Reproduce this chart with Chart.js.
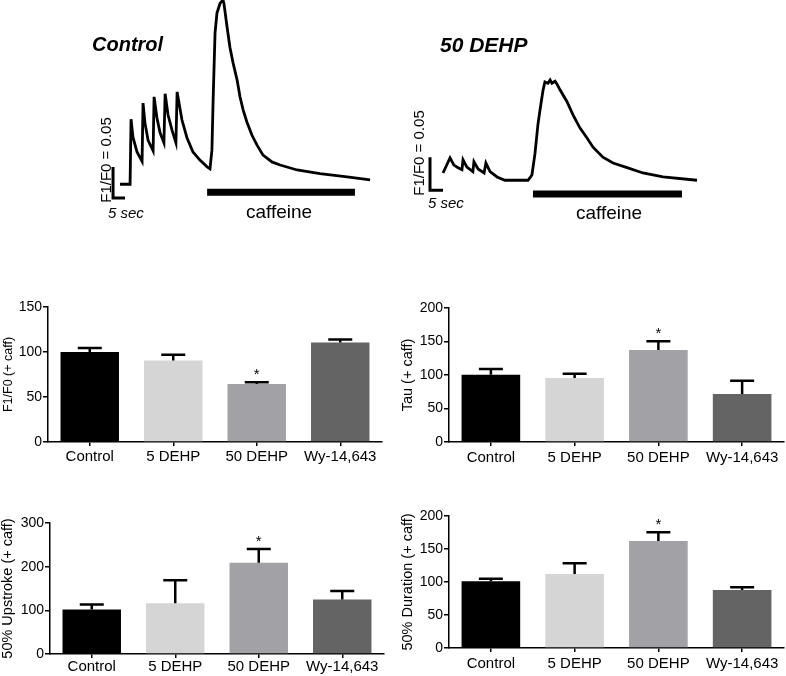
<!DOCTYPE html>
<html>
<head>
<meta charset="utf-8">
<script src="https://cdn.jsdelivr.net/npm/chart.js@4.4.0/dist/chart.umd.min.js"></script>
<style>
  body { margin: 0; width: 786px; height: 676px; position: relative; overflow: hidden; background: #fff;
         font-family: "Liberation Sans", Arial, sans-serif; color: #000; }
  canvas { position: absolute; }
  .lbl { position: absolute; white-space: nowrap; line-height: 1; }
  .rot { transform: translate(-50%, -50%) rotate(-90deg); }
</style>
</head>
<body>
<canvas id="ctrlTrace" width="290" height="230" style="left:100px;top:0px"></canvas>
<canvas id="dehpTrace" width="300" height="230" style="left:410px;top:0px"></canvas>

<div class="lbl" style="left:92px;top:33px;font:bold italic 20px 'Liberation Sans',Arial">Control</div>
<div class="lbl" style="left:440px;top:33px;font:bold italic 21px 'Liberation Sans',Arial">50 DEHP</div>
<div class="lbl rot" style="left:105px;top:160px;font-size:15px">F1/F0 = 0.05</div>
<div class="lbl rot" style="left:418px;top:153px;font-size:15px">F1/F0 = 0.05</div>
<div class="lbl" style="left:108px;top:205px;font-size:15px;font-style:italic">5 sec</div>
<div class="lbl" style="left:428px;top:195px;font-size:15px;font-style:italic">5 sec</div>
<div class="lbl" style="left:279px;top:211px;font-size:19px;transform:translate(-50%,-50%)">caffeine</div>
<div class="lbl" style="left:609px;top:212px;font-size:19px;transform:translate(-50%,-50%)">caffeine</div>

<canvas id="ampChart" width="390" height="180" style="left:0px;top:290px"></canvas>
<canvas id="tauChart" width="396" height="180" style="left:390px;top:290px"></canvas>
<canvas id="upChart" width="391" height="176" style="left:-1px;top:500px"></canvas>
<canvas id="durChart" width="396" height="176" style="left:390px;top:500px"></canvas>

<script>
// example traces: time (s) and F1/F0
const ctrlTime  = [0, 4.2, 4.6, 5.4, 7.1, 9.2, 9.6, 10.4, 11.7, 13.8, 14.2, 15.4, 16.7, 18.3, 18.8, 20.0,
                   21.7, 23.3, 23.8, 25.8, 27.9, 30.4, 33.3, 36.3, 37.5, 38.3, 38.8, 39.6, 40.4, 41.7, 42.9,
                   43.3, 44.6, 45.8, 47.1, 48.8, 50.0, 51.3, 52.9, 55.0, 57.1, 59.6, 63.3, 66.7, 73.8, 83.3,
                   94.6, 104.2];
const ctrlRatio = [0.998, 0.998, 1.103, 1.074, 1.050, 1.035, 1.129, 1.097, 1.069, 1.052, 1.139, 1.105, 1.081,
                   1.065, 1.144, 1.110, 1.085, 1.065, 1.147, 1.102, 1.073, 1.050, 1.037, 1.026, 1.023, 1.053,
                   1.134, 1.242, 1.274, 1.290, 1.295, 1.290, 1.252, 1.219, 1.194, 1.166, 1.139, 1.118, 1.098,
                   1.077, 1.061, 1.045, 1.034, 1.029, 1.021, 1.015, 1.010, 1.005];
const dehpTime  = [0, 2.7, 4.2, 5.8, 7.3, 7.7, 9.2, 11.5, 11.9, 13.5, 15.8, 16.5, 18.1, 20.8, 23.8, 32.7,
                   34.2, 35.4, 36.5, 37.3, 38.5, 39.2, 40.4, 41.2, 41.9, 43.1, 43.8, 45.0, 47.7, 50.0, 52.7,
                   55.4, 57.7, 61.5, 65.4, 70.8, 76.9, 84.6, 97.7];
const dehpRatio = [1.000, 1.023, 1.012, 1.008, 1.005, 1.020, 1.009, 1.002, 1.017, 1.006, 1.000, 1.015, 1.002,
                   0.994, 0.989, 0.989, 0.997, 1.030, 1.073, 1.095, 1.126, 1.138, 1.136, 1.141, 1.136, 1.139,
                   1.135, 1.126, 1.108, 1.088, 1.068, 1.053, 1.039, 1.024, 1.015, 1.008, 1.000, 0.994, 0.989];

// scale bars (5 s by 0.05) and caffeine application
const ctrlScaleT = [-2.9, -2.9, 2.1];
const ctrlScaleF = [1.026, 0.976, 0.976];
const dehpScaleT = [-5.0, -5.0, 0.0];
const dehpScaleF = [1.024, 0.974, 0.974];
const ctrlCaffT = [36.3, 97.9];
const ctrlCaffF = [0.985, 0.985];
const dehpCaffT = [34.6, 91.9];
const dehpCaffF = [0.968, 0.968];

// summary bars (mean, SEM)
const groups = ['Control', '5 DEHP', '50 DEHP', 'Wy-14,643'];
const ampMean = [100, 90.5, 64.5, 110.5];
const ampErr  = [4.5, 6.5, 2, 3.5];
const tauMean = [100.5, 95.5, 137.5, 71.5];
const tauErr  = [8.5, 6.5, 13, 20];
const upMean  = [102, 116, 209, 125];
const upErr   = [11.5, 53, 31.5, 19];
const durMean = [101, 112, 162, 88];
const durErr  = [4, 16.5, 13.5, 4];
const starred = [false, false, true, false];

const barColors = ['#000000', '#d5d5d5', '#a2a2a6', '#646464'];
const FONT = "'Liberation Sans', Arial, sans-serif";

const pts = (xs, ys) => xs.map((x, i) => ({ x, y: ys[i] }));

function makeTrace(id, t, f, st, sf, ct, cf, xr, yr) {
  return new Chart(document.getElementById(id), {
    type: 'line',
    data: {
      datasets: [
        { data: pts(t, f), borderColor: '#000', borderWidth: 2.8, pointRadius: 0, tension: 0 },
        { data: pts(st, sf), borderColor: '#000', borderWidth: 3, pointRadius: 0, borderJoinStyle: 'miter' },
        { data: pts(ct, cf), borderColor: '#000', borderWidth: 7, pointRadius: 0, borderCapStyle: 'butt' },
      ],
    },
    options: {
      responsive: false,
      animation: false,
      layout: { padding: 0 },
      plugins: { legend: { display: false }, tooltip: { enabled: false } },
      scales: {
        x: { type: 'linear', display: false, min: xr[0], max: xr[1] },
        y: { display: false, min: yr[0], max: yr[1] },
      },
    },
  });
}

makeTrace('ctrlTrace', ctrlTime, ctrlRatio, ctrlScaleT, ctrlScaleF, ctrlCaffT, ctrlCaffF,
  [-8.333, 112.5], [0.9242, 1.2952]);
makeTrace('dehpTrace', dehpTime, dehpRatio, dehpScaleT, dehpScaleF, dehpCaffT, dehpCaffF,
  [-12.69, 102.69], [0.9136, 1.2621]);

const errorBars = {
  id: 'errorBars',
  afterDatasetsDraw(chart, args, opts) {
    const { ctx } = chart;
    const y = chart.scales.y;
    const meta = chart.getDatasetMeta(0);
    ctx.save();
    ctx.strokeStyle = '#000';
    ctx.fillStyle = '#000';
    ctx.lineWidth = 2.5;
    ctx.font = `15px ${FONT}`;
    ctx.textAlign = 'center';
    ctx.textBaseline = 'alphabetic';
    meta.data.forEach((bar, i) => {
      const base = y.getPixelForValue(opts.mean[i]);
      const top = y.getPixelForValue(opts.mean[i] + opts.err[i]);
      ctx.beginPath();
      ctx.moveTo(bar.x, base);
      ctx.lineTo(bar.x, top);
      ctx.moveTo(bar.x - 12, top);
      ctx.lineTo(bar.x + 12, top);
      ctx.stroke();
      if (starred[i]) ctx.fillText('*', bar.x, top - 3);
    });
    ctx.restore();
  },
};

function makeBar(id, mean, err, c) {
  return new Chart(document.getElementById(id), {
    type: 'bar',
    data: {
      labels: groups,
      datasets: [{ data: mean, backgroundColor: barColors, barPercentage: 0.7, categoryPercentage: 1 }],
    },
    options: {
      responsive: false,
      animation: false,
      layout: { padding: { top: c.padTop, right: c.padRight, left: 0, bottom: 0 } },
      plugins: {
        legend: { display: false },
        tooltip: { enabled: false },
        errorBars: { mean, err },
      },
      scales: {
        x: {
          afterFit: s => { s.height = c.axisH; },
          grid: { display: true, drawOnChartArea: false, offset: false, color: '#000', lineWidth: 1.5, tickLength: 4 },
          border: { display: true, color: '#000', width: 1.5 },
          ticks: { color: '#000', padding: c.xPad, font: { family: FONT, size: 15 } },
        },
        y: {
          min: 0,
          max: c.max,
          afterFit: s => { s.width = c.axisW; },
          grid: { display: true, drawOnChartArea: false, color: '#000', lineWidth: 1.5, tickLength: 5 },
          border: { display: true, color: '#000', width: 1.5 },
          ticks: { stepSize: c.step, color: '#000', padding: 1, font: { family: FONT, size: c.tickSize } },
          title: {
            display: true,
            text: c.title,
            color: '#000',
            padding: { top: c.titlePad, bottom: 0 },
            font: { family: FONT, size: c.titleSize },
          },
        },
      },
    },
    plugins: [errorBars],
  });
}

makeBar('ampChart', ampMean, ampErr, {
  title: 'F1/F0 (+ caff)', max: 150, step: 50, axisW: 48, axisH: 28, padTop: 17, padRight: 8,
  titlePad: 1, tickSize: 14, titleSize: 12.5, xPad: 2,
});
makeBar('tauChart', tauMean, tauErr, {
  title: 'Tau (+ caff)', max: 200, step: 50, axisW: 59, axisH: 28, padTop: 18, padRight: 2,
  titlePad: 9.5, tickSize: 14, titleSize: 14.5, xPad: 3,
});
makeBar('upChart', upMean, upErr, {
  title: '50% Upstroke (+ caff)', max: 300, step: 100, axisW: 51, axisH: 22, padTop: 23, padRight: 6,
  titlePad: 0, tickSize: 14, titleSize: 14.5, xPad: 0,
});
makeBar('durChart', durMean, durErr, {
  title: '50% Duration (+ caff)', max: 200, step: 50, axisW: 59, axisH: 28, padTop: 16, padRight: 2,
  titlePad: 9.5, tickSize: 14, titleSize: 14.5, xPad: 3,
});
</script>
</body>
</html>
